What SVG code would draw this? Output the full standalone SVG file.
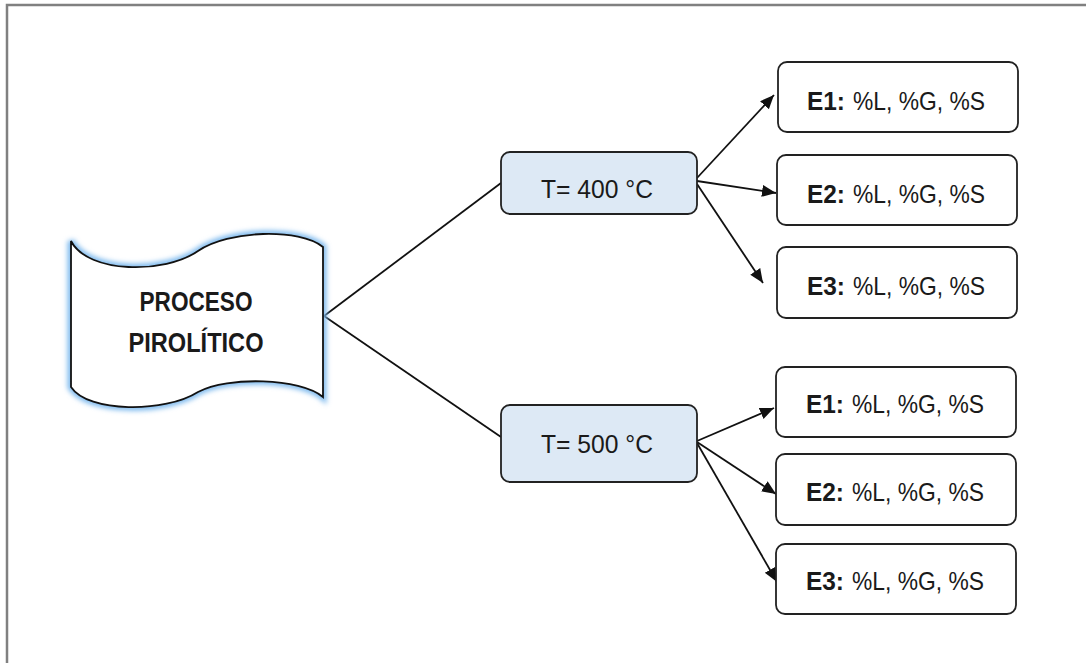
<svg xmlns="http://www.w3.org/2000/svg" width="1086" height="663" viewBox="0 0 1086 663">
<defs>
<style>
.frame{fill:none;stroke:#808080;stroke-width:2.5}
.box{fill:#ffffff;stroke:#222;stroke-width:1.8}
.tbox{fill:#dde9f5;stroke:#222;stroke-width:1.8}
.wave{fill:#ffffff;stroke:#111;stroke-width:1.8}
.glow{fill:none;stroke:#7db9ee;stroke-width:7;filter:url(#blur)}
.line{fill:none;stroke:#111;stroke-width:1.8}
.arr{fill:none;stroke:#111;stroke-width:1.8;marker-end:url(#ah)}
text{font-family:"Liberation Sans",Arial,sans-serif;fill:#1a1a1a}
.lbl{font-size:26.5px;text-anchor:middle}
.big{font-size:27px;font-weight:bold;text-anchor:middle}
.eb{font-size:26.5px;font-weight:bold}
.er{font-size:26.5px}
</style>
<filter id="blur" x="-10%" y="-10%" width="120%" height="120%"><feGaussianBlur stdDeviation="2.5"/></filter>
<marker id="ah" markerUnits="userSpaceOnUse" markerWidth="15" markerHeight="13" refX="14" refY="6" orient="auto"><path d="M0,0 L14,6 L0,12 z" fill="#111"/></marker>
</defs>
<rect width="1086" height="663" fill="#ffffff"/>
<path class="frame" d="M7,663 V5 H1086"/>
<g id="connectors">
<line class="line" x1="324" y1="316" x2="501" y2="183"/>
<line class="line" x1="324" y1="316" x2="501" y2="437"/>
<line class="arr" x1="697" y1="178" x2="774" y2="95"/>
<line class="arr" x1="697" y1="181" x2="776" y2="193"/>
<line class="arr" x1="697" y1="184" x2="763" y2="283"/>
<line class="arr" x1="697" y1="441" x2="774" y2="408"/>
<line class="arr" x1="697" y1="442" x2="776" y2="494"/>
<line class="arr" x1="697" y1="443" x2="777" y2="582"/>
</g>
<g id="proceso">
<path class="glow" d="M71,241 C88,274 165,274 198,251 C228,230 300,228 323,247 V397 C300,378 228,376 198,392 C165,413 88,413 71,387 Z"/>
<path class="wave" d="M71,241 C88,274 165,274 198,251 C228,230 300,228 323,247 V397 C300,378 228,376 198,392 C165,413 88,413 71,387 Z"/>
<text class="big" x="196" y="311" textLength="113" lengthAdjust="spacingAndGlyphs">PROCESO</text>
<text class="big" x="196" y="352" textLength="135" lengthAdjust="spacingAndGlyphs">PIROLÍTICO</text>
</g>
<g id="t400">
<rect class="tbox" x="501" y="152" width="196" height="62" rx="9"/>
<text class="lbl" x="597" y="198" textLength="112" lengthAdjust="spacingAndGlyphs">T= 400 °C</text>
</g>
<g id="t500">
<rect class="tbox" x="501" y="405" width="196" height="77" rx="9"/>
<text class="lbl" x="597" y="453" textLength="112" lengthAdjust="spacingAndGlyphs">T= 500 °C</text>
</g>
<g id="e1a">
<rect class="box" x="778" y="62" width="240" height="70" rx="9"/>
<text class="eb" x="807" y="110" textLength="38" lengthAdjust="spacingAndGlyphs">E1:</text>
<text class="er" x="853" y="110" textLength="132" lengthAdjust="spacingAndGlyphs">%L, %G, %S</text>
</g>
<g id="e2a">
<rect class="box" x="777" y="155" width="240" height="70" rx="9"/>
<text class="eb" x="807" y="203" textLength="38" lengthAdjust="spacingAndGlyphs">E2:</text>
<text class="er" x="853" y="203" textLength="132" lengthAdjust="spacingAndGlyphs">%L, %G, %S</text>
</g>
<g id="e3a">
<rect class="box" x="777" y="247" width="240" height="71" rx="9"/>
<text class="eb" x="807" y="295" textLength="38" lengthAdjust="spacingAndGlyphs">E3:</text>
<text class="er" x="853" y="295" textLength="132" lengthAdjust="spacingAndGlyphs">%L, %G, %S</text>
</g>
<g id="e1b">
<rect class="box" x="776" y="367" width="240" height="70" rx="9"/>
<text class="eb" x="806" y="413" textLength="38" lengthAdjust="spacingAndGlyphs">E1:</text>
<text class="er" x="852" y="413" textLength="132" lengthAdjust="spacingAndGlyphs">%L, %G, %S</text>
</g>
<g id="e2b">
<rect class="box" x="776" y="454" width="240" height="71" rx="9"/>
<text class="eb" x="806" y="501" textLength="38" lengthAdjust="spacingAndGlyphs">E2:</text>
<text class="er" x="852" y="501" textLength="132" lengthAdjust="spacingAndGlyphs">%L, %G, %S</text>
</g>
<g id="e3b">
<rect class="box" x="776" y="544" width="240" height="70" rx="9"/>
<text class="eb" x="806" y="590" textLength="38" lengthAdjust="spacingAndGlyphs">E3:</text>
<text class="er" x="852" y="590" textLength="132" lengthAdjust="spacingAndGlyphs">%L, %G, %S</text>
</g>
</svg>
